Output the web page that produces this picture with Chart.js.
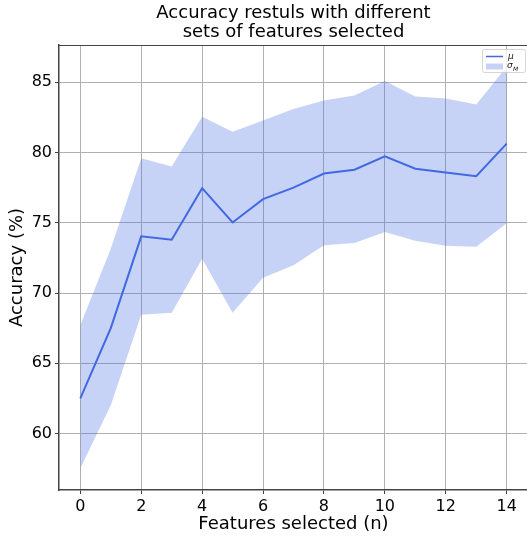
<!DOCTYPE html>
<html>
<head>
<meta charset="utf-8">
<script src="https://cdn.jsdelivr.net/npm/chart.js@4"></script>
<style>
  html, body { margin: 0; padding: 0; background: #fff; overflow: hidden; }
  #wrap { position: relative; width: 529px; height: 541px; }
</style>
</head>
<body>
<div id="wrap"><canvas id="c"></canvas></div>
<script>
// ---- data ----
const features = [0, 1, 2, 3, 4, 5, 6, 7, 8, 9, 10, 11, 12, 13, 14];
const meanAcc  = [62.5, 67.5, 74.03, 73.79, 77.46, 75.02, 76.68, 77.5, 78.5, 78.77, 79.73, 78.84, 78.58, 78.31, 80.63];
const upperAcc = [67.7, 73.15, 79.59, 79.0, 82.55, 81.48, 82.27, 83.1, 83.7, 84.05, 85.09, 83.98, 83.84, 83.42, 86.1];
const lowerAcc = [57.52, 62.02, 68.46, 68.6, 72.44, 68.6, 71.09, 71.97, 73.39, 73.56, 74.34, 73.72, 73.36, 73.29, 74.97];
const xTicks = [0, 2, 4, 6, 8, 10, 12, 14];
const yTicks = [60, 65, 70, 75, 80, 85];
const titleLines = ['Accuracy restuls with different', 'sets of features selected'];
const xTitle = 'Features selected (n)';
const yTitle = 'Accuracy (%)';
const legendMu = 'μ';
const legendSigma = 'σ';
const legendSigmaSub = 'M';

const FONT = 'DejaVu Sans';
const LINE = 'rgb(65,105,225)';
const BAND = 'rgba(65,105,225,0.3)';
const GRID = '#b0b0b0';
const SPINE = '#444';

const pts = arr => features.map((x, i) => ({ x: x, y: arr[i] }));

const frameAndLegend = {
  id: 'frameAndLegend',
  afterDatasetsDraw(chart) {
    const ctx = chart.ctx;
    const a = chart.chartArea;
    ctx.save();
    // top spine
    ctx.strokeStyle = SPINE;
    ctx.lineWidth = 1;
    ctx.beginPath();
    ctx.moveTo(a.left, a.top + 0.5);
    ctx.lineTo(a.right, a.top + 0.5);
    ctx.stroke();
    // legend box
    const bx = 482.5, by = 49.5, bw = 43, bh = 23, r = 2;
    ctx.beginPath();
    ctx.moveTo(bx + r, by);
    ctx.lineTo(bx + bw - r, by);
    ctx.quadraticCurveTo(bx + bw, by, bx + bw, by + r);
    ctx.lineTo(bx + bw, by + bh - r);
    ctx.quadraticCurveTo(bx + bw, by + bh, bx + bw - r, by + bh);
    ctx.lineTo(bx + r, by + bh);
    ctx.quadraticCurveTo(bx, by + bh, bx, by + bh - r);
    ctx.lineTo(bx, by + r);
    ctx.quadraticCurveTo(bx, by, bx + r, by);
    ctx.closePath();
    ctx.fillStyle = 'rgba(255,255,255,0.8)';
    ctx.fill();
    ctx.strokeStyle = 'rgba(204,204,204,0.8)';
    ctx.lineWidth = 1;
    ctx.stroke();
    // line sample
    ctx.strokeStyle = LINE;
    ctx.lineWidth = 1.5;
    ctx.beginPath();
    ctx.moveTo(486, 56.5);
    ctx.lineTo(503, 56.5);
    ctx.stroke();
    // patch sample
    ctx.fillStyle = BAND;
    ctx.fillRect(486, 63.5, 17, 6);
    // text
    ctx.fillStyle = '#222';
    ctx.textBaseline = 'middle';
    ctx.textAlign = 'left';
    ctx.font = 'italic 9px "' + FONT + '"';
    ctx.fillText(legendMu, 508, 57);
    ctx.fillText(legendSigma, 507, 66);
    ctx.font = 'italic 6px "' + FONT + '"';
    ctx.fillText(legendSigmaSub, 513, 69);
    ctx.restore();
  }
};

new Chart(document.getElementById('c'), {
  type: 'line',
  data: {
    datasets: [
      {
        label: 'lower',
        data: pts(lowerAcc),
        borderWidth: 0,
        borderColor: 'rgba(0,0,0,0)',
        backgroundColor: BAND,
        pointRadius: 0,
        fill: false,
        tension: 0
      },
      {
        label: 'σM',
        data: pts(upperAcc),
        borderWidth: 0,
        borderColor: 'rgba(0,0,0,0)',
        backgroundColor: BAND,
        pointRadius: 0,
        fill: '-1',
        tension: 0
      },
      {
        label: 'μ',
        data: pts(meanAcc),
        borderColor: LINE,
        borderWidth: 2,
        pointRadius: 0,
        fill: false,
        tension: 0
      }
    ]
  },
  options: {
    responsive: true,
    maintainAspectRatio: false,
    animation: false,
    events: [],
    layout: { padding: { left: 0, right: 1, top: 0, bottom: 0 } },
    plugins: {
      legend: { display: false },
      tooltip: { enabled: false },
      title: {
        display: true,
        fullSize: false,
        text: titleLines,
        color: '#000',
        font: { family: FONT, size: 18, weight: 'normal', lineHeight: 1.1 },
        padding: { top: 3, bottom: 2.4 }
      }
    },
    scales: {
      x: {
        type: 'linear',
        min: -0.7,
        max: 14.7,
        afterBuildTicks: s => { s.ticks = xTicks.map(v => ({ value: v })); },
        afterFit: s => { s.height = 51; },
        ticks: {
          color: '#000',
          font: { family: FONT, size: 16 },
          padding: 3,
          maxRotation: 0,
          autoSkip: false
        },
        grid: { color: GRID, lineWidth: 1, tickLength: 4, tickColor: SPINE },
        border: { display: true, color: SPINE, width: 1.5 },
        title: {
          display: true,
          text: xTitle,
          color: '#000',
          font: { family: FONT, size: 18 },
          padding: { top: 0, bottom: 6.2 }
        }
      },
      y: {
        type: 'linear',
        min: 55.98,
        max: 87.65,
        afterBuildTicks: s => { s.ticks = yTicks.map(v => ({ value: v })); },
        afterFit: s => { s.width = 59; },
        ticks: {
          color: '#000',
          font: { family: FONT, size: 16 },
          padding: 3
        },
        grid: { color: GRID, lineWidth: 1, tickLength: 4, tickColor: SPINE },
        border: { display: true, color: SPINE, width: 1.5 },
        title: {
          display: true,
          text: yTitle,
          color: '#000',
          font: { family: FONT, size: 18 },
          padding: { top: 6.7, bottom: 0 }
        }
      }
    }
  },
  plugins: [frameAndLegend]
});
</script>
</body>
</html>
